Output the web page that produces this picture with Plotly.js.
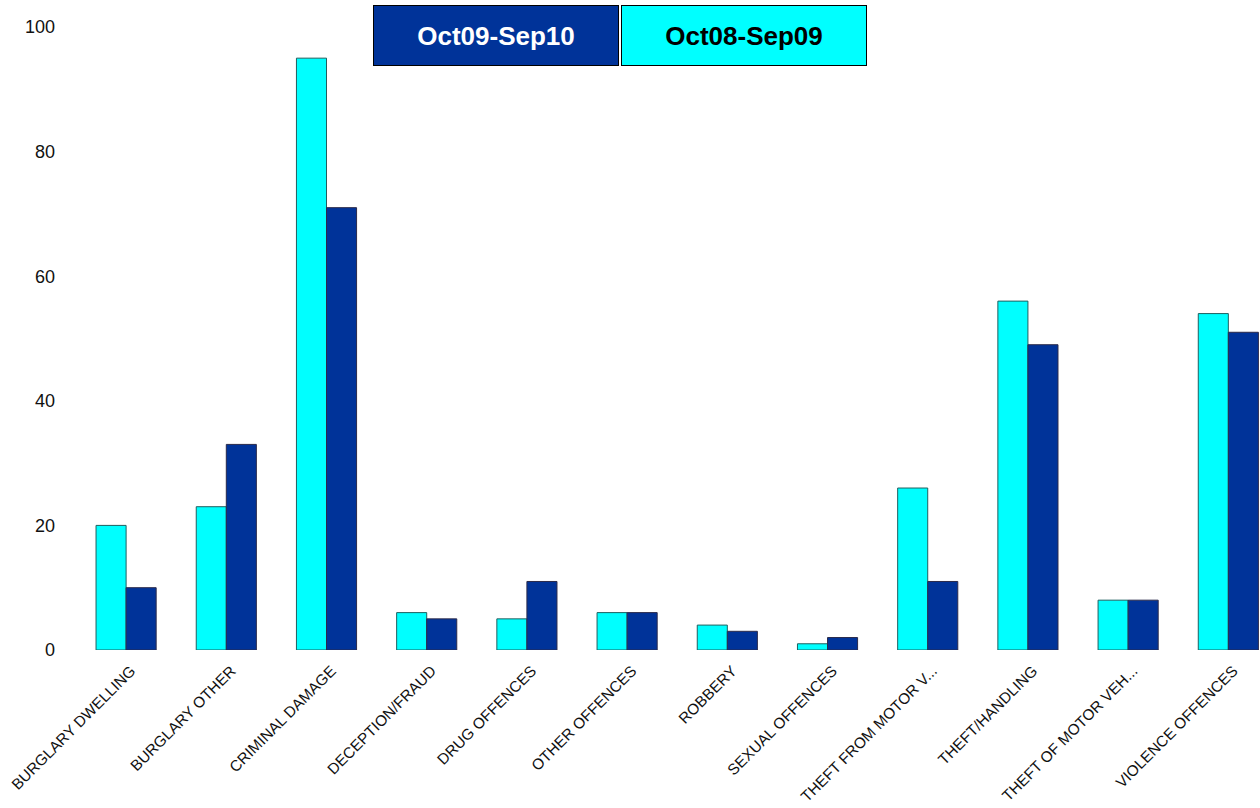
<!DOCTYPE html>
<html>
<head>
<meta charset="utf-8">
<script src="https://cdn.plot.ly/plotly-3.0.1.min.js"></script>
<style>html,body{margin:0;padding:0;background:#fff;}#chart{width:1260px;height:808px;}</style>
</head>
<body>
<div id="chart"></div>
<script>
const categories = ["BURGLARY DWELLING","BURGLARY OTHER","CRIMINAL DAMAGE","DECEPTION/FRAUD","DRUG OFFENCES","OTHER OFFENCES","ROBBERY","SEXUAL OFFENCES","THEFT FROM MOTOR V...","THEFT/HANDLING","THEFT OF MOTOR VEH...","VIOLENCE OFFENCES"];
const seriesNames = ["Oct08-Sep09","Oct09-Sep10"];
const valuesOct08Sep09 = [20,23,95,6,5,6,4,1,26,56,8,54];
const valuesOct09Sep10 = [10,33,71,5,11,6,3,2,11,49,8,51];
const yTicks = [0,20,40,60,80,100];

const cyan = '#00FFFF', navy = '#003399';

const traces = [
  {type:'bar', name:seriesNames[0], x:categories, y:valuesOct08Sep09,
   marker:{color:cyan, line:{color:'#1f5f5f', width:1}}},
  {type:'bar', name:seriesNames[1], x:categories, y:valuesOct09Sep10,
   marker:{color:navy, line:{color:'#2a2a4a', width:1}}}
];

const layout = {
  width:1260, height:808,
  margin:{l:76, r:0, t:27, b:158, pad:0},
  paper_bgcolor:'#fff', plot_bgcolor:'#fff',
  barmode:'group', bargap:0.4, bargroupgap:0,
  showlegend:false,
  font:{family:'"Liberation Sans", Arial, sans-serif', color:'#000'},
  xaxis:{type:'category', range:[-0.5, 11.316], showgrid:false, zeroline:false, showline:false,
         ticks:'', tickangle:-45, ticklabelstandoff:8, ticklabelshift:5,
         tickfont:{size:15.3, color:'#111'}},
  yaxis:{range:[0,100], tickvals:yTicks, ticktext:yTicks.map(String), showgrid:false, zeroline:false,
         showline:false, ticks:'', ticklabelstandoff:20, tickfont:{size:18, color:'#111'}},
  annotations:[
    {xref:'paper', yref:'paper', x:(374+122-76)/1184, y:1+(27-35.5)/623, xanchor:'center', yanchor:'middle',
     text:'<b>'+seriesNames[1]+'</b>', showarrow:false, font:{size:26, color:'#fff'},
     bgcolor:navy, bordercolor:'#000', borderwidth:1, width:242, height:57},
    {xref:'paper', yref:'paper', x:(622+122-76)/1184, y:1+(27-35.5)/623, xanchor:'center', yanchor:'middle',
     text:'<b>'+seriesNames[0]+'</b>', showarrow:false, font:{size:26, color:'#000'},
     bgcolor:cyan, bordercolor:'#000', borderwidth:1, width:242, height:57}
  ]
};

Plotly.newPlot('chart', traces, layout, {displayModeBar:false, staticPlot:true});
</script>
</body>
</html>
